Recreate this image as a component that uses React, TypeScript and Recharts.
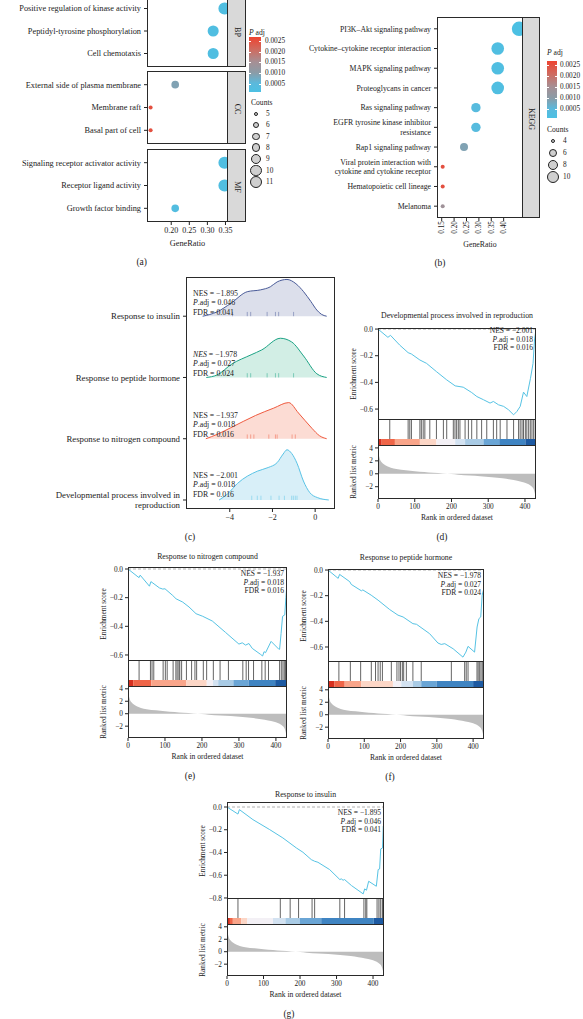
import React from "react";
import {
  ScatterChart,
  Scatter,
  XAxis,
  YAxis,
  ZAxis,
  Cell,
  ComposedChart,
  LineChart,
  Line,
  AreaChart,
  Area,
  ReferenceLine,
  ReferenceArea,
} from "recharts";

const FONT = '"Liberation Serif", "DejaVu Serif", serif';
const INK = "#222";

// ---------- (a) GO enrichment ----------
const bpTerms = ["Positive regulation of kinase activity", "Peptidyl-tyrosine phosphorylation", "Cell chemotaxis"];
const bpRatio = [0.347, 0.316, 0.316];
const bpCount = [11, 10, 10];
const bpPadj = [0.0002, 0.0002, 0.0002];

const ccTerms = ["External side of plasma membrane", "Membrane raft", "Basal part of cell"];
const ccRatio = [0.211, 0.143, 0.143];
const ccCount = [7, 5, 5];
const ccPadj = [0.0009, 0.0025, 0.0025];

const mfTerms = ["Signaling receptor activator activity", "Receptor ligand activity", "Growth factor binding"];
const mfRatio = [0.347, 0.347, 0.211];
const mfCount = [11, 11, 7];
const mfPadj = [0.0002, 0.0002, 0.0003];

const goRatioTicks = [0.2, 0.25, 0.3, 0.35];
const goCountLegend = [5, 6, 7, 8, 9, 10, 11];

// ---------- (b) KEGG ----------
const keggTerms = [
  "PI3K–Akt signaling pathway",
  "Cytokine–cytokine receptor interaction",
  "MAPK signaling pathway",
  "Proteoglycans in cancer",
  "Ras signaling pathway",
  "EGFR tyrosine kinase inhibitor\nresistance",
  "Rap1 signaling pathway",
  "Viral protein interaction with\ncytokine and cytokine receptor",
  "Hematopoietic cell lineage",
  "Melanoma",
];
const keggRatio = [0.462, 0.376, 0.376, 0.376, 0.288, 0.288, 0.24, 0.154, 0.154, 0.154];
const keggCount = [12, 10, 10, 10, 7, 7, 6, 4, 4, 4];
const keggPadj = [0.0001, 0.0002, 0.0002, 0.0002, 0.0004, 0.0004, 0.0009, 0.0025, 0.0025, 0.0014];
const keggRatioTicks = [0.15, 0.2, 0.25, 0.3, 0.35, 0.4];
const keggCountLegend = [4, 6, 8, 10];

const padjLegend = [0.0025, 0.002, 0.0015, 0.001, 0.0005];

// ---------- (c) ridge plot ----------
const ridgeTerms = [
  "Response to insulin",
  "Response to peptide hormone",
  "Response to nitrogen compound",
  "Developmental process involved in\nreproduction",
];
const ridgeInsulin = [[-5.27, 0], [-4.6, 0.07], [-3.95, 0.21], [-3.18, 0.4], [-2.56, 0.43], [-2.1, 0.48], [-1.78, 0.56], [-1.32, 0.6], [-0.9, 0.53], [-0.54, 0.4], [-0.2, 0.24], [0.08, 0.1], [0.3, 0.03], [0.54, 0]];
const ridgePeptide = [[-5.1, 0], [-4.6, 0.04], [-3.9, 0.22], [-3.0, 0.37], [-2.5, 0.45], [-1.63, 0.64], [-1.1, 0.58], [-0.54, 0.35], [0.08, 0.06], [0.54, 0]];
const ridgeNitrogen = [[-5.12, 0], [-4.6, 0.07], [-3.95, 0.18], [-2.79, 0.38], [-1.94, 0.5], [-1.24, 0.59], [-0.78, 0.42], [-0.15, 0.17], [0.2, 0.05], [0.54, 0]];
const ridgeDevelop = [[-4.5, 0], [-4.1, 0.1], [-3.64, 0.27], [-2.71, 0.47], [-2.2, 0.53], [-1.78, 0.61], [-1.5, 0.75], [-1.32, 0.82], [-1.1, 0.76], [-0.85, 0.6], [-0.55, 0.31], [-0.25, 0.12], [0.1, 0.04], [0.64, 0]];
const rugInsulin = [-3.87, -3.18, -3.02, -2.25, -1.86, -1.71, -1.01];
const rugPeptide = [-3.18, -3.02, -2.25, -1.86, -1.71, -1.01];
const rugNitrogen = [-3.18, -3.02, -2.87, -2.17, -1.86, -1.78, -1.08, -0.93];
const rugDevelop = [-2.97, -2.71, -2.54, -2.07, -1.69, -1.44, -1.1, -1.02, -0.93, -0.85];

const statInsulin = ["−1.895", "0.046", "0.041"];
const statPeptide = ["−1.978", "0.027", "0.024"];
const statNitrogen = ["−1.937", "0.018", "0.016"];
const statDevelop = ["−2.001", "0.018", "0.016"];

// ---------- GSEA running scores (rank, ES) ----------
const RANK_MAX = 430;
const esDevelop = [[0, 0], [27, -0.062], [34, -0.047], [59, -0.12], [82, -0.177], [91, -0.187], [114, -0.232], [132, -0.257], [159, -0.319], [187, -0.381], [210, -0.426], [232, -0.436], [255, -0.476], [269, -0.506], [287, -0.53], [305, -0.555], [314, -0.543], [328, -0.568], [342, -0.58], [355, -0.605], [369, -0.643], [378, -0.618], [387, -0.58], [396, -0.473], [405, -0.506], [415, -0.369], [422, -0.257], [426, -0.082], [430, 0]];
const esNitrogen = [[0, 0], [27, -0.055], [30, -0.06], [33, -0.043], [58, -0.12], [62, -0.088], [85, -0.132], [94, -0.14], [100, -0.138], [121, -0.185], [130, -0.208], [148, -0.231], [165, -0.265], [184, -0.312], [202, -0.33], [228, -0.363], [264, -0.443], [300, -0.524], [309, -0.515], [318, -0.531], [327, -0.52], [336, -0.554], [358, -0.595], [364, -0.607], [368, -0.577], [372, -0.584], [387, -0.505], [408, -0.56], [410, -0.56], [414, -0.45], [418, -0.33], [424, -0.32], [427, -0.2], [430, -0.1]];
const esPeptide = [[0, 0], [28, -0.065], [32, -0.034], [60, -0.091], [64, -0.112], [92, -0.162], [96, -0.155], [119, -0.196], [138, -0.235], [170, -0.308], [193, -0.352], [207, -0.366], [234, -0.418], [244, -0.423], [280, -0.496], [303, -0.569], [312, -0.58], [322, -0.574], [345, -0.614], [372, -0.679], [380, -0.64], [386, -0.595], [404, -0.64], [411, -0.444], [416, -0.379], [421, -0.366], [425, -0.196], [430, -0.14]];
const esInsulin = [[0, 0], [30, -0.062], [34, -0.023], [71, -0.111], [117, -0.199], [153, -0.272], [190, -0.36], [208, -0.398], [231, -0.463], [240, -0.477], [249, -0.486], [281, -0.55], [309, -0.638], [313, -0.632], [318, -0.644], [322, -0.638], [341, -0.691], [373, -0.764], [377, -0.72], [382, -0.732], [388, -0.653], [409, -0.697], [414, -0.55], [418, -0.545], [421, -0.369], [426, -0.36], [428, -0.17], [430, -0.15]];

const hitsDevelop = [32, 82, 86.5, 91, 114, 118, 123, 127.5, 141, 159, 178, 187, 205, 209.5, 214, 218.6, 223, 237, 246, 255, 269, 282, 296, 314, 323, 332.5, 351, 369, 382.6, 387, 392, 396, 401, 405, 410, 414.5, 419, 423.6, 428];
const hitsNitrogen = [30, 60.7, 65, 69.7, 95, 101, 106, 122, 129.5, 133, 137.6, 140, 145, 158, 172, 181, 185.6, 203.7, 212.7, 230.8, 249, 271.6, 310.5, 319.6, 326, 339.5, 362, 371, 380, 410, 414.6, 419, 422.7, 426];
const hitsPeptide = [30, 61.6, 90, 119.4, 131, 138, 144, 150, 174.6, 190, 195.7, 200, 205, 208.6, 216, 234, 257, 340, 376.7, 381, 386, 410.7, 414, 418, 421.7, 425.4, 429];
const hitsInsulin = [30, 146, 173, 196, 233, 240, 309, 322, 375, 380, 383, 411, 416, 420, 425, 427, 429.5];

// colour-bar breaks along the ranked list
const barDevelop = [0, 10, 46, 114, 159, 210, 237, 287, 330, 401, 430];
const barNitrogen = [0, 14, 63, 158, 213, 230, 244, 285, 326, 398, 430];
const barPeptide = [0, 18, 46, 92, 179, 202, 234, 257, 299, 400, 430];
const barInsulin = [0, 8, 16, 39, 55, 126, 160, 199, 258, 402, 430];
const barPalette = ["#d7301f", "#ef6548", "#f9a58a", "#fcd6c6", "#f3f0f5", "#d3e2f1", "#a9cbe5", "#6aa5d5", "#3f84c2", "#1d5aa2"];

const rankedMetric = [[0, 3.7], [2, 3.0], [5, 2.3], [10, 1.8], [15, 1.5], [25, 1.15], [35, 0.92], [50, 0.72], [76, 0.54], [100, 0.4], [126, 0.27], [150, 0.15], [177, 0.05], [200, -0.05], [218, -0.16], [250, -0.27], [278, -0.38], [310, -0.52], [339, -0.7], [360, -0.88], [379, -1.08], [395, -1.3], [405, -1.5], [415, -1.8], [420, -2.05], [425, -2.6], [428, -3.3], [430, -3.8]];

// ---------- colour scale for p.adj ----------
const PADJ_MIN = 0.0001;
const PADJ_MAX = 0.0027;
const padjStops: [number, string][] = [
  [0, "#4cc0e3"],
  [0.16, "#5bb9dc"],
  [0.35, "#8b9ca7"],
  [0.55, "#a68f94"],
  [0.76, "#cd6d62"],
  [1, "#ee4330"],
];
const hex = (c: string) => [1, 3, 5].map((i) => parseInt(c.slice(i, i + 2), 16));
function padjColor(p: number) {
  const t = Math.min(1, Math.max(0, (p - PADJ_MIN) / (PADJ_MAX - PADJ_MIN)));
  for (let i = 1; i < padjStops.length; i++) {
    const [t0, c0] = padjStops[i - 1];
    const [t1, c1] = padjStops[i];
    if (t <= t1) {
      const u = (t - t0) / (t1 - t0);
      const a = hex(c0);
      const b = hex(c1);
      return `rgb(${a.map((v, k) => Math.round(v + (b[k] - v) * u)).join(",")})`;
    }
  }
  return padjStops[padjStops.length - 1][1];
}
const gradientCss = `linear-gradient(to top, ${padjStops.map(([t, c]) => `${c} ${t * 100}%`).join(", ")})`;

const countRadius = (c: number, dom: number[], rng: number[]) =>
  Math.sqrt((rng[0] + ((c - dom[0]) / (dom[1] - dom[0])) * (rng[1] - rng[0])) / Math.PI);

const minus = (v: number, d: number) => (v < 0 ? "−" + Math.abs(v).toFixed(d) : v.toFixed(d));

// ---------- small helpers ----------
function Txt({ x, y, size = 7.5, anchor = "middle", rotate = 0, children, style }: any) {
  const tx = anchor === "start" ? "0" : anchor === "end" ? "-100%" : "-50%";
  return (
    <div
      style={{
        position: "absolute",
        left: x,
        top: y,
        transform: `translate(${tx},-50%)${rotate ? ` rotate(${rotate}deg)` : ""}`,
        fontSize: size,
        lineHeight: 1,
        whiteSpace: "nowrap",
        ...style,
      }}
    >
      {children}
    </div>
  );
}

function Box({ x, y, w, h }: any) {
  return (
    <div
      style={{
        position: "absolute",
        left: x,
        top: y,
        width: w,
        height: h,
        border: "1px solid #2a2a2a",
        boxSizing: "border-box",
        pointerEvents: "none",
      }}
    />
  );
}

function Strip({ x, y, w, h, label }: any) {
  return (
    <div
      style={{
        position: "absolute",
        left: x,
        top: y,
        width: w,
        height: h,
        background: "#d9d9d9",
        border: "1px solid #2a2a2a",
        boxSizing: "border-box",
      }}
    >
      <Txt x={w / 2 - 1} y={h / 2} size={8} rotate={90}>
        {label}
      </Txt>
    </div>
  );
}

const rowTick = (labelOf: (v: number) => string, fontSize: number, gap: number) => (props: any) => {
  const { x, y, payload } = props;
  const lines = labelOf(payload.value).split("\n");
  const y0 = y - ((lines.length - 1) * gap) / 2;
  return (
    <text x={x} y={y0} textAnchor="end" fontSize={fontSize} fontFamily={FONT} fill={INK}>
      {lines.map((l, i) => (
        <tspan key={i} x={x} dy={i === 0 ? "0.35em" : gap}>
          {l}
        </tspan>
      ))}
    </text>
  );
};

const rotTick = (props: any) => {
  const { x, y, payload } = props;
  return (
    <text
      transform={`translate(${x},${y}) rotate(-90)`}
      textAnchor="end"
      dominantBaseline="central"
      fontSize={7.3}
      fontFamily={FONT}
      fill={INK}
    >
      {payload.value.toFixed(2)}
    </text>
  );
};

const numTick = { fontSize: 7.3, fill: INK, fontFamily: FONT };
const zero = { top: 0, right: 0, bottom: 0, left: 0 };

function DotFacet(p: any) {
  const data = p.terms.map((t: string, i: number) => ({
    row: i + 1,
    ratio: p.ratio[i],
    count: p.count[i],
    padj: p.padj[i],
  }));
  const n = p.terms.length;
  const rows = data.map((d: any) => d.row);
  const xH = p.showX ? p.xH : 0;
  const padR = p.padR || 0;
  return (
    <>
      <div style={{ position: "absolute", left: p.left, top: p.top }}>
        <ScatterChart
          width={p.yW + p.plotW + padR}
          height={p.plotH + xH}
          margin={{ top: 0, right: padR, bottom: 0, left: 0 }}
        >
          {p.showX ? (
            <XAxis
              type="number"
              dataKey="ratio"
              domain={p.domain}
              allowDataOverflow
              ticks={p.xTicks}
              interval={0}
              height={xH}
              tickSize={3}
              tickMargin={p.xTickMargin}
              axisLine={false}
              tickLine={{ stroke: INK }}
              tick={p.xTick || { fontSize: 8, fill: INK, fontFamily: FONT }}
              tickFormatter={(v: number) => v.toFixed(2)}
            />
          ) : (
            <XAxis type="number" dataKey="ratio" domain={p.domain} allowDataOverflow hide />
          )}
          <YAxis
            type="number"
            dataKey="row"
            domain={[0.4, n + 0.6]}
            reversed
            allowDataOverflow
            ticks={rows}
            interval={0}
            width={p.yW}
            tickSize={3}
            tickMargin={3}
            axisLine={false}
            tickLine={{ stroke: INK }}
            tick={rowTick((v) => p.terms[v - 1] || "", p.fontSize, p.fontSize * 1.2)}
          />
          <ZAxis type="number" dataKey="count" domain={p.zDomain} range={p.zRange} />
          <Scatter data={data} isAnimationActive={false}>
            {data.map((d: any, i: number) => (
              <Cell key={i} fill={padjColor(d.padj)} />
            ))}
          </Scatter>
        </ScatterChart>
      </div>
      <Box x={p.left + p.yW} y={p.top} w={p.plotW} h={p.plotH} />
      <Strip x={p.left + p.yW + p.plotW - 1} y={p.top} w={p.stripW} h={p.plotH} label={p.strip} />
    </>
  );
}

function PadjLegend({ x, y, barTop, barBottom, barW, labelX, countY, countX, circleX, circleY, counts, zDomain, zRange, labelGap }: any) {
  const vy = (v: number) => barBottom - ((v - PADJ_MIN) / (PADJ_MAX - PADJ_MIN)) * (barBottom - barTop);
  return (
    <>
      <Txt x={x} y={y} size={7.6} anchor="start">
        <i>P</i> adj
      </Txt>
      <div
        style={{
          position: "absolute",
          left: x,
          top: barTop,
          width: barW,
          height: barBottom - barTop,
          background: gradientCss,
        }}
      />
      {padjLegend.map((v) => (
        <React.Fragment key={v}>
          <div style={{ position: "absolute", left: x, top: vy(v), width: 2, height: 0.8, background: "#fff" }} />
          <div style={{ position: "absolute", left: x + barW - 2, top: vy(v), width: 2, height: 0.8, background: "#fff" }} />
          <Txt x={labelX} y={vy(v)} size={7.3} anchor="start">
            {v.toFixed(4)}
          </Txt>
        </React.Fragment>
      ))}
      <Txt x={countX} y={countY} size={7.6} anchor="start">
        Counts
      </Txt>
      {counts.map((c: number, i: number) => {
        const r = countRadius(c, zDomain, zRange);
        const cy = circleY + i * labelGap;
        return (
          <React.Fragment key={c}>
            <div
              style={{
                position: "absolute",
                left: circleX - r,
                top: cy - r,
                width: 2 * r,
                height: 2 * r,
                borderRadius: "50%",
                background: "#cfcfcf",
                border: "1px solid #222",
                boxSizing: "border-box",
              }}
            />
            <Txt x={circleX + 10} y={cy} size={7.3} anchor="start">
              {c}
            </Txt>
          </React.Fragment>
        );
      })}
    </>
  );
}

function GseaPanel(p: any) {
  const { L, W, titleY, boxTop, esH, metH, title, es, esDomain, esTicks, hits, breaks, stats, statsY, label, labelX } = p;
  const yW = 30;
  const pad = 6;
  const hitTop = boxTop + esH - 1;
  const hitH = 27;
  const metTop = hitTop + hitH - 1;
  const barFrac = 7 / hitH;
  const esData = es.map(([rank, score]: number[]) => ({ rank, score }));
  const hitData = hits.map((rank: number) => ({ rank }));
  const metData = rankedMetric.map(([rank, metric]) => ({ rank, metric }));
  const R = L + W;
  return (
    <>
      <Txt x={L + W / 2} y={titleY} size={7.8}>
        {title}
      </Txt>
      <div style={{ position: "absolute", left: L - yW, top: boxTop - pad }}>
        <LineChart
          width={yW + W}
          height={esH + 2 * pad}
          data={esData}
          margin={{ top: pad, right: 0, bottom: pad, left: 0 }}
        >
          <XAxis type="number" dataKey="rank" domain={[0, RANK_MAX]} allowDataOverflow hide />
          <YAxis
            type="number"
            domain={esDomain}
            allowDataOverflow
            ticks={esTicks}
            interval={0}
            width={yW}
            tickSize={3}
            axisLine={false}
            tickLine={{ stroke: INK }}
            tick={numTick}
            tickFormatter={(v: number) => minus(v, 1)}
          />
          <ReferenceLine y={0} stroke="#a0a0a0" strokeDasharray="3 2" strokeWidth={0.8} />
          <Line type="linear" dataKey="score" stroke="#56c3e4" strokeWidth={1} dot={false} isAnimationActive={false} />
        </LineChart>
      </div>
      <div style={{ position: "absolute", left: L, top: hitTop }}>
        <ComposedChart width={W} height={hitH} data={hitData} margin={zero}>
          <XAxis type="number" dataKey="rank" domain={[0, RANK_MAX]} allowDataOverflow hide />
          <YAxis type="number" domain={[0, 1]} allowDataOverflow hide />
          {barPalette.map((c, i) => (
            <ReferenceArea
              key={"b" + i}
              x1={breaks[i]}
              x2={breaks[i + 1]}
              y1={0}
              y2={barFrac}
              fill={c}
              fillOpacity={1}
              stroke="none"
            />
          ))}
          {hits.map((h: number, i: number) => (
            <ReferenceLine
              key={"h" + i}
              segment={[
                { x: h, y: barFrac },
                { x: h, y: 1 },
              ]}
              stroke="#1a1a1a"
              strokeOpacity={0.85}
              strokeWidth={0.8}
            />
          ))}
        </ComposedChart>
      </div>
      <div style={{ position: "absolute", left: L - yW, top: metTop - pad }}>
        <AreaChart
          width={yW + W + 8}
          height={metH + 14 + pad}
          data={metData}
          margin={{ top: pad, right: 8, bottom: 0, left: 0 }}
        >
          <XAxis
            type="number"
            dataKey="rank"
            domain={[0, RANK_MAX]}
            allowDataOverflow
            ticks={[0, 100, 200, 300, 400]}
            interval={0}
            height={14}
            tickSize={3}
            axisLine={false}
            tickLine={{ stroke: INK }}
            tick={numTick}
          />
          <YAxis
            type="number"
            domain={[-3.9, 4.45]}
            allowDataOverflow
            ticks={[-2, 0, 2, 4]}
            interval={0}
            width={yW}
            tickSize={3}
            axisLine={false}
            tickLine={{ stroke: INK }}
            tick={numTick}
            tickFormatter={(v: number) => minus(v, 0)}
          />
          <Area
            type="monotone"
            dataKey="metric"
            baseValue={0}
            stroke="none"
            fill="#bdbdbd"
            fillOpacity={1}
            isAnimationActive={false}
          />
        </AreaChart>
      </div>
      <Box x={L} y={boxTop} w={W} h={esH} />
      <Box x={L} y={hitTop} w={W} h={hitH} />
      <Box x={L} y={metTop} w={W} h={metH} />
      <Txt x={L - 24} y={boxTop + esH / 2} size={7.3} rotate={-90}>
        Enrichment score
      </Txt>
      <Txt x={L - 24} y={metTop + metH / 2} size={7.3} rotate={-90}>
        Ranked list metric
      </Txt>
      <Txt x={L + W / 2} y={metTop + metH + 19} size={7.6}>
        Rank in ordered dataset
      </Txt>
      <Txt x={R - 3} y={statsY} size={7.5} anchor="end">
        NES = {stats[0]}
      </Txt>
      <Txt x={R - 3} y={statsY + 8.5} size={7.5} anchor="end">
        <i>P</i>.adj = {stats[1]}
      </Txt>
      <Txt x={R - 3} y={statsY + 17} size={7.5} anchor="end">
        FDR = {stats[2]}
      </Txt>
      <Txt x={labelX} y={metTop + metH + 39} size={9.5}>
        {label}
      </Txt>
    </>
  );
}

const ridges = [
  { data: ridgeInsulin, rug: rugInsulin, off: 3, line: "#4a5b98", fill: "#dcdfeb" },
  { data: ridgePeptide, rug: rugPeptide, off: 2, line: "#1ca385", fill: "#d2eee5" },
  { data: ridgeNitrogen, rug: rugNitrogen, off: 1, line: "#ef5a3f", fill: "#fcdcd4" },
  { data: ridgeDevelop, rug: rugDevelop, off: 0, line: "#59c3e6", fill: "#d8eff8" },
];

function RidgePanel() {
  return (
    <>
      <div style={{ position: "absolute", left: 0, top: 277 }}>
        <ComposedChart width={345} height={252} margin={{ top: 0, right: 10, bottom: 0, left: 0 }}>
          <XAxis
            type="number"
            dataKey="x"
            domain={[-6.05, 0.93]}
            allowDataOverflow
            ticks={[-4, -2, 0]}
            interval={0}
            height={20}
            tickSize={3}
            axisLine={false}
            tickLine={{ stroke: INK }}
            tick={{ fontSize: 8, fill: INK, fontFamily: FONT }}
            tickFormatter={(v: number) => minus(v, 0)}
          />
          <YAxis
            type="number"
            domain={[-0.147, 3.64]}
            allowDataOverflow
            ticks={[0, 1, 2, 3]}
            interval={0}
            width={186}
            tickSize={3}
            tickMargin={3}
            axisLine={false}
            tickLine={{ stroke: INK }}
            tick={rowTick((v) => ridgeTerms[3 - v] || "", 8.8, 10)}
          />
          {ridges.map((r, i) => (
            <Area
              key={"r" + i}
              data={r.data.map(([x, d]) => ({ x, y: r.off + d }))}
              dataKey="y"
              baseValue={r.off}
              type="monotone"
              stroke={r.line}
              strokeWidth={1}
              fill={r.fill}
              fillOpacity={1}
              isAnimationActive={false}
            />
          ))}
          {ridges.map((r, i) =>
            r.rug.map((v, j) => (
              <ReferenceLine
                key={`rug${i}-${j}`}
                segment={[
                  { x: v, y: r.off },
                  { x: v, y: r.off + 0.07 },
                ]}
                stroke={r.line}
                strokeOpacity={0.6}
                strokeWidth={0.8}
              />
            ))
          )}
        </ComposedChart>
      </div>
      <Box x={186} y={277} w={149} h={232} />
      {[
        { s: statInsulin, y: 294, nesItalic: false },
        { s: statPeptide, y: 355, nesItalic: true },
        { s: statNitrogen, y: 416, nesItalic: false },
        { s: statDevelop, y: 476, nesItalic: false },
      ].map((g, i) => (
        <React.Fragment key={"st" + i}>
          <Txt x={193} y={g.y} size={7.8} anchor="start">
            {g.nesItalic ? <i>NES</i> : "NES"} = {g.s[0]}
          </Txt>
          <Txt x={193} y={g.y + 9.2} size={7.8} anchor="start">
            <i>P</i>.adj = {g.s[1]}
          </Txt>
          <Txt x={193} y={g.y + 18.6} size={7.8} anchor="start">
            FDR = {g.s[2]}
          </Txt>
        </React.Fragment>
      ))}
      <Txt x={190} y={538} size={9.5}>
        (c)
      </Txt>
    </>
  );
}

export default function App() {
  const goZ = { zDomain: [5, 11], zRange: [12.6, 113] };
  const keggZ = { zDomain: [4, 12], zRange: [12.6, 163] };
  const goCommon = {
    left: 0,
    yW: 147,
    plotW: 81,
    domain: [0.133, 0.357],
    stripW: 19,
    fontSize: 8.3,
    ...goZ,
  };
  return (
    <div
      style={{
        position: "absolute",
        left: 0,
        top: 0,
        width: 583,
        height: 1019,
        overflow: "hidden",
        background: "#fff",
        fontFamily: FONT,
        color: INK,
      }}
    >
      {/* (a) GO */}
      <DotFacet {...goCommon} top={-5} plotH={72} terms={bpTerms} ratio={bpRatio} count={bpCount} padj={bpPadj} strip="BP" />
      <DotFacet {...goCommon} top={71} plotH={73} terms={ccTerms} ratio={ccRatio} count={ccCount} padj={ccPadj} strip="CC" />
      <DotFacet
        {...goCommon}
        top={149}
        plotH={73}
        terms={mfTerms}
        ratio={mfRatio}
        count={mfCount}
        padj={mfPadj}
        strip="MF"
        showX
        xH={16}
        padR={14}
        xTicks={goRatioTicks}
        xTickMargin={2}
      />
      <Txt x={187.5} y={244} size={8.3}>
        GeneRatio
      </Txt>
      <Txt x={141.7} y={263} size={9.5}>
        (a)
      </Txt>
      <PadjLegend
        x={249}
        y={33}
        barTop={37}
        barBottom={92}
        barW={12}
        labelX={265}
        countX={251}
        countY={103}
        circleX={256}
        circleY={114}
        labelGap={11.3}
        counts={goCountLegend}
        {...goZ}
      />

      {/* (b) KEGG */}
      <DotFacet
        left={290}
        yW={147}
        plotW={86}
        top={17}
        plotH={201}
        domain={[0.131, 0.478]}
        stripW={18}
        fontSize={7.8}
        terms={keggTerms}
        ratio={keggRatio}
        count={keggCount}
        padj={keggPadj}
        strip="KEGG"
        showX
        xH={22}
        xTicks={keggRatioTicks}
        xTickMargin={0}
        xTick={rotTick}
        {...keggZ}
      />
      <Txt x={480} y={245} size={7.8}>
        GeneRatio
      </Txt>
      <Txt x={440} y={264} size={9.5}>
        (b)
      </Txt>
      <PadjLegend
        x={547}
        y={53}
        barTop={61}
        barBottom={118}
        barW={10}
        labelX={560}
        countX={547}
        countY={130}
        circleX={553}
        circleY={141}
        labelGap={12}
        counts={keggCountLegend}
        {...keggZ}
      />

      {/* (c) ridges */}
      <RidgePanel />

      {/* (d) - (g) GSEA */}
      <GseaPanel
        L={378}
        W={158}
        titleY={316}
        boxTop={328}
        esH={92}
        metH={54}
        title="Developmental process involved in reproduction"
        es={esDevelop}
        esDomain={[-0.682, 0.008]}
        esTicks={[0, -0.2, -0.4, -0.6]}
        hits={hitsDevelop}
        breaks={barDevelop}
        stats={statDevelop}
        statsY={331}
        label="(d)"
        labelX={442}
      />
      <GseaPanel
        L={128}
        W={159}
        titleY={557}
        boxTop={567}
        esH={94}
        metH={52}
        title="Response to nitrogen compound"
        es={esNitrogen}
        esDomain={[-0.642, 0.014]}
        esTicks={[0, -0.2, -0.4, -0.6]}
        hits={hitsNitrogen}
        breaks={barNitrogen}
        stats={statNitrogen}
        statsY={574}
        label="(e)"
        labelX={190}
      />
      <GseaPanel
        L={328}
        W={156}
        titleY={558}
        boxTop={569}
        esH={93}
        metH={52}
        title="Response to peptide hormone"
        es={esPeptide}
        esDomain={[-0.717, 0.008]}
        esTicks={[0, -0.2, -0.4, -0.6]}
        hits={hitsPeptide}
        breaks={barPeptide}
        stats={statPeptide}
        statsY={576}
        label="(f)"
        labelX={390}
      />
      <GseaPanel
        L={227}
        W={157}
        titleY={795}
        boxTop={802}
        esH={97}
        metH={52}
        title="Response to insulin"
        es={esInsulin}
        esDomain={[-0.809, 0.044]}
        esTicks={[0, -0.2, -0.4, -0.6, -0.8]}
        hits={hitsInsulin}
        breaks={barInsulin}
        stats={statInsulin}
        statsY={813}
        label="(g)"
        labelX={289}
      />
    </div>
  );
}
